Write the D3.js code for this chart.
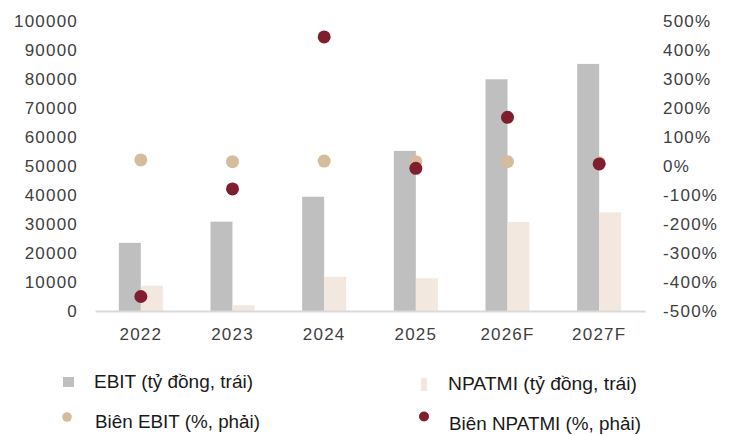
<!DOCTYPE html>
<html>
	<head>
		<meta charset="UTF-8">
		<title>EBIT - NPATMI</title>
		<script src="https://cdn.jsdelivr.net/npm/d3@7"></script>
		<style type="text/css">
			body{margin:0;background:#fff;}
			.axis text{font-family:"Liberation Sans", Arial, sans-serif;font-size:17px;letter-spacing:1.2px;fill:#404040;}
			.legend text{font-family:"Liberation Sans", Arial, sans-serif;font-size:18.5px;fill:#1a1a1a;}
		</style>
	</head>
	<body>
		<script type="text/javascript">
			var years = ["2022","2023","2024","2025","2026F","2027F"];
			var ebit = [23500,30800,39400,55200,79900,85200];
			var npatmi = [8700,2000,11800,11300,30700,34000];
			var ebitMargin = [21,15,17,15,15,11];
			var npatmiMargin = [-450,-79,445,-8,168,7];
			var leftTicks = [0,10000,20000,30000,40000,50000,60000,70000,80000,90000,100000];
			var rightTicks = [-500,-400,-300,-200,-100,0,100,200,300,400,500];

			var w = 736, h = 435;
			var colEbit = "#bfbfbf", colNp = "#f2e8df", colEm = "#d4bc9c", colNm = "#7f1f2e";

			var svg = d3.select("body").append("svg")
			.attr("width",w)
			.attr("height",h);

			//比例尺
			var x = d3.scaleBand().domain(years).range([95,645]);
			var yL = d3.scaleLinear().domain([0,100000]).range([311,21]);
			var yR = d3.scaleLinear().domain([-500,500]).range([311,21]);
			var bw = 22;

			//柱子
			svg.append("g").selectAll("rect")
			.data(years)
			.enter()
			.append("rect")
			.attr("x",function(d){ return x(d)+x.bandwidth()/2-bw; })
			.attr("y",function(d,i){ return yL(ebit[i]); })
			.attr("width",bw)
			.attr("height",function(d,i){ return yL(0)-yL(ebit[i]); })
			.attr("fill",colEbit);

			svg.append("g").selectAll("rect")
			.data(years)
			.enter()
			.append("rect")
			.attr("x",function(d){ return x(d)+x.bandwidth()/2; })
			.attr("y",function(d,i){ return yL(npatmi[i]); })
			.attr("width",bw)
			.attr("height",function(d,i){ return yL(0)-yL(npatmi[i]); })
			.attr("fill",colNp);

			//x轴
			var xAxis = d3.axisBottom(x).tickSize(0).tickPadding(17);
			var gx = svg.append("g")
			.attr("class","axis")
			.attr("transform","translate(0,311)")
			.call(xAxis);
			gx.select(".domain").attr("stroke","#d9d9d9").attr("stroke-width",2);

			//左轴
			var gl = svg.append("g")
			.attr("class","axis")
			.attr("transform","translate(78,0)")
			.call(d3.axisLeft(yL).tickValues(leftTicks).tickSize(0).tickPadding(0).tickFormat(d3.format("d")));
			gl.select(".domain").remove();

			//右轴
			var gr = svg.append("g")
			.attr("class","axis")
			.attr("transform","translate(663,0)")
			.call(d3.axisRight(yR).tickValues(rightTicks).tickSize(0).tickPadding(0).tickFormat(function(d){ return d+"%"; }));
			gr.select(".domain").remove();

			//圆点
			svg.append("g").selectAll("circle")
			.data(years)
			.enter()
			.append("circle")
			.attr("cx",function(d){ return x(d)+x.bandwidth()/2; })
			.attr("cy",function(d,i){ return yR(ebitMargin[i]); })
			.attr("r",6.5)
			.attr("fill",colEm);

			svg.append("g").selectAll("circle")
			.data(years)
			.enter()
			.append("circle")
			.attr("cx",function(d){ return x(d)+x.bandwidth()/2; })
			.attr("cy",function(d,i){ return yR(npatmiMargin[i]); })
			.attr("r",6.5)
			.attr("fill",colNm);

			//图例
			var lg = svg.append("g").attr("class","legend");
			lg.append("rect").attr("x",63).attr("y",377).attr("width",11).attr("height",10).attr("fill",colEbit);
			lg.append("text").attr("x",94).attr("y",382).attr("dy","0.35em").attr("textLength",159).attr("lengthAdjust","spacingAndGlyphs").text("EBIT (tỷ đồng, trái)");
			lg.append("rect").attr("x",421).attr("y",378).attr("width",6).attr("height",13).attr("fill",colNp);
			lg.append("text").attr("x",448).attr("y",383.5).attr("dy","0.35em").attr("textLength",189).attr("lengthAdjust","spacingAndGlyphs").text("NPATMI (tỷ đồng, trái)");
			lg.append("circle").attr("cx",67).attr("cy",417).attr("r",4.8).attr("fill",colEm);
			lg.append("text").attr("x",95).attr("y",421.5).attr("dy","0.35em").attr("textLength",165).attr("lengthAdjust","spacingAndGlyphs").text("Biên EBIT (%, phải)");
			lg.append("circle").attr("cx",424).attr("cy",416.5).attr("r",5).attr("fill",colNm);
			lg.append("text").attr("x",449).attr("y",423.5).attr("dy","0.35em").attr("textLength",192).attr("lengthAdjust","spacingAndGlyphs").text("Biên NPATMI (%, phải)");
		</script>
	</body>
</html>
